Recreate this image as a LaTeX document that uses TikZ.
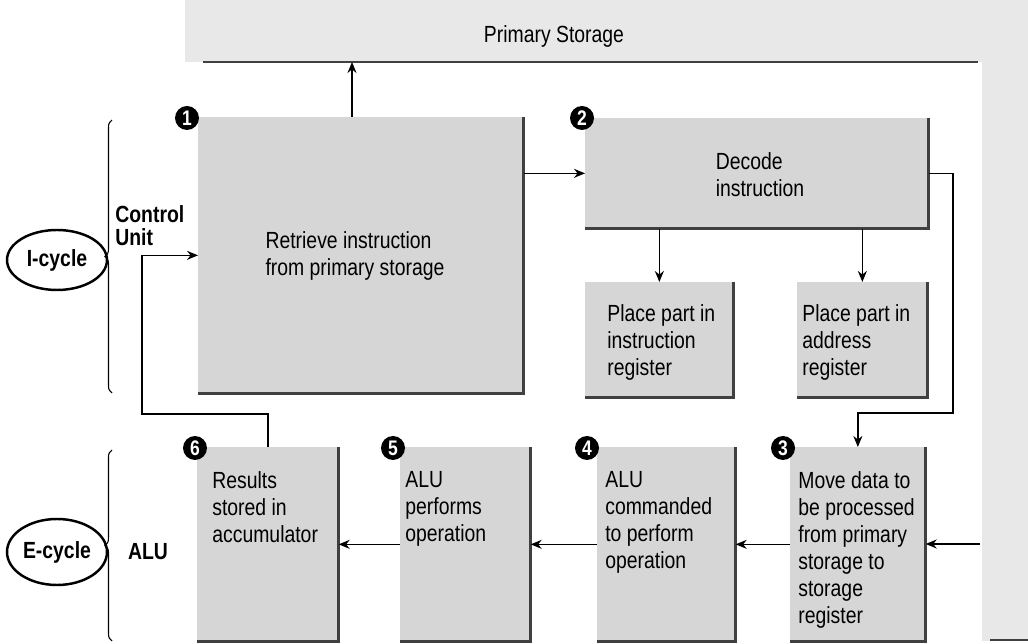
\documentclass[tikz,border=0pt]{standalone}
\usepackage{fontspec}
\setmainfont{Liberation Sans}[FakeStretch=0.83]
\usetikzlibrary{calc, positioning}
\usetikzlibrary{arrows.meta}
\usetikzlibrary{decorations.pathreplacing}

\definecolor{boxgray}{gray}{0.84}
\definecolor{bandgray}{gray}{0.91}

\tikzset{
  stepbox/.style={fill=boxgray, inner sep=0pt, anchor=north west},
  steptext/.style={align=left, inner sep=0pt, font=\fontsize{13.3}{15.4}\selectfont},
  sidetext/.style={align=left, inner sep=0pt, font=\bfseries\fontsize{13.3}{13}\selectfont},
  numdot/.style={circle, fill=black, text=white, inner sep=0pt, minimum size=0.48cm, font=\bfseries\fontsize{12}{12}\selectfont},
  arr/.style={-{Stealth[length=2.2mm,width=1.8mm]}, line width=0.9pt},
  edgeshade/.style={line width=1.4pt, black!75},
  handring/.style={line width=1.4pt},
  unitbrace/.style={decorate, decoration={brace, amplitude=4pt}, line width=0.6pt}
}

\begin{document}
\begin{tikzpicture}[x=0.02cm, y=-0.02cm]
\def\px{0.02cm}
\useasboundingbox (0,0) rectangle (1028,644);

\fill[bandgray] (185,0) -- (1028,0) -- (1028,641) -- (982,641) -- (982,62) -- (185,62) -- cycle;
\draw[edgeshade] (203,62) -- (978,62);
\draw[edgeshade] (990,640) -- (1028,640);
\node[steptext] (pstext) at (554,36) {Primary Storage};

\coordinate (psbase) at (352,62);
\coordinate (bend) at (953,413);
\coordinate (loop) at (142,414);
\coordinate (feed) at (980,544);

\node[stepbox, minimum width=325*\px, minimum height=276*\px] (fetch) at (198,117) {};
\node[stepbox, minimum width=343*\px, minimum height=110*\px] (decode) at (585,118) {};
\node[stepbox, minimum width=148*\px, minimum height=115*\px] (ireg) at (585,282) {};
\node[stepbox, minimum width=130*\px, minimum height=115*\px] (areg) at (797,282) {};
\node[stepbox, minimum width=135*\px, minimum height=194*\px] (move) at (790,447) {};
\node[stepbox, minimum width=138*\px, minimum height=194*\px] (command) at (597,447) {};
\node[stepbox, minimum width=130*\px, minimum height=194*\px] (perform) at (400,447) {};
\node[stepbox, minimum width=141*\px, minimum height=194*\px] (result) at (197,447) {};

\foreach \b in {fetch,decode,ireg,areg,move,command,perform,result}
  \draw[edgeshade] (\b.north east) -- (\b.south east) -- (\b.south west);

\node[steptext] (fetchtext) at (355,256) {Retrieve instruction\\from primary storage};
\node[steptext] (decodetext) at (760,175) {Decode\\instruction};
\node[steptext, anchor=north west] (iregtext) at (607,304) {Place part in\\instruction\\register};
\node[steptext, anchor=north west] (aregtext) at (802,304) {Place part in\\address\\register};
\node[steptext, anchor=north west] (movetext) at (798,471) {Move data to\\be processed\\from primary\\storage to\\storage\\register};
\node[steptext, anchor=north west] (commandtext) at (605,471) {ALU\\commanded\\to perform\\operation};
\node[steptext, anchor=north west] (performtext) at (405,471) {ALU\\performs\\operation};
\node[steptext, anchor=north west] (resulttext) at (212,471) {Results\\stored in\\accumulator};

\node[numdot] (n1) at (187,118) {1};
\node[numdot] (n2) at (582,118) {2};
\node[numdot] (n3) at (783,448) {3};
\node[numdot] (n4) at (587,448) {4};
\node[numdot] (n5) at (393,448) {5};
\node[numdot] (n6) at (195,448) {6};

\draw[arr] (fetch.north -| psbase) -- (psbase);
\draw[arr] (fetch.east |- decode.west) -- (decode.west);
\draw[arr] (decode.south -| ireg.north) -- (ireg.north);
\draw[arr] (decode.south -| areg.north) -- (areg.north);
\draw[arr] (decode.east) -| (bend) -| (move.north);
\draw[arr] (feed) -- (feed -| move.east);
\draw[arr] (move.west) -- (command.east);
\draw[arr] (command.west) -- (perform.east);
\draw[arr] (perform.west) -- (result.east);
\draw[arr] (result.north) |- (loop) |- (fetch.west);

\draw[unitbrace] (112,393) -- (112,120);
\draw[unitbrace] (112,641) -- (112,450);

\node[sidetext, anchor=north west] (ctrl) at (115,205) {Control\\Unit};
\node[sidetext] (alu) at (148,552) {ALU};

\node[sidetext] (icycle) at (57,260) {I-cycle};
\draw[handring] (icycle.center) ellipse [x radius=50, y radius=30];
\node[sidetext] (ecycle) at (57,552) {E-cycle};
\draw[handring] (ecycle.center) ellipse [x radius=50, y radius=33];
\end{tikzpicture}
\end{document}
